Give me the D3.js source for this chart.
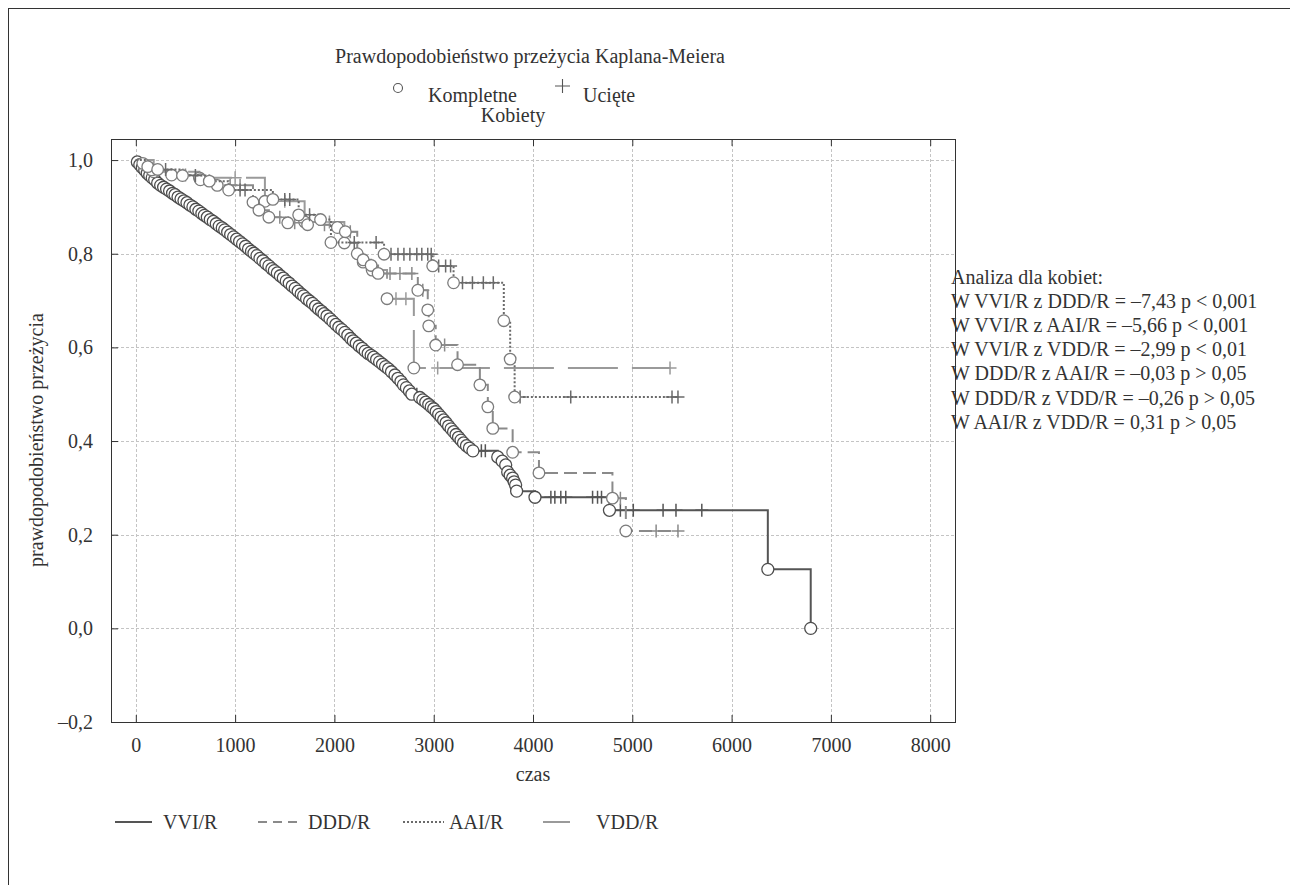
<!doctype html>
<html lang="pl">
<head>
<meta charset="UTF-8">
<title>Kaplan-Meier - Kobiety</title>
<style>
  body { margin: 0; background: #fff; }
  svg text { font-family: "Liberation Serif", "Times New Roman", serif; fill: #333; }
</style>
</head>
<body>
<div class="container"></div>

<script src="https://d3js.org/d3.v7.min.js"></script>
<script>
  // ---- data ----
  const xTicks = [0, 1000, 2000, 3000, 4000, 5000, 6000, 7000, 8000];
  const yTicks = [-0.2, 0, 0.2, 0.4, 0.6, 0.8, 1.0];
  const seriesNames = ['VVI/R', 'DDD/R', 'AAI/R', 'VDD/R'];

  // [time, survival after event] for complete observations (circles)
  const vviDeaths = [
    [15,0.996],[40,0.99],[65,0.984],[90,0.978],[115,0.972],[140,0.967],[165,0.962],[190,0.958],
    [220,0.951],[250,0.946],[280,0.942],[310,0.938],[340,0.934],[370,0.929],[395,0.926],
    [425,0.921],[455,0.917],[485,0.913],[515,0.909],[545,0.904],[575,0.9],[605,0.895],
    [635,0.891],[665,0.886],[690,0.882],[720,0.878],[750,0.873],[780,0.869],[810,0.864],
    [840,0.859],[870,0.855],[895,0.851],[925,0.846],[955,0.841],[985,0.836],[1015,0.831],
    [1045,0.826],[1075,0.821],[1105,0.816],[1135,0.81],[1165,0.805],[1190,0.801],[1220,0.796],
    [1250,0.79],[1280,0.785],[1310,0.779],[1340,0.774],[1370,0.768],[1395,0.764],[1425,0.759],
    [1455,0.753],[1485,0.748],[1515,0.742],[1545,0.737],[1575,0.731],[1605,0.726],[1635,0.72],
    [1665,0.714],[1690,0.71],[1720,0.704],[1750,0.699],[1780,0.694],[1810,0.688],[1840,0.682],
    [1870,0.677],[1895,0.672],[1925,0.667],[1955,0.661],[1985,0.655],[2015,0.649],[2045,0.643],
    [2075,0.638],[2105,0.632],[2135,0.626],[2165,0.619],[2190,0.614],[2220,0.609],[2250,0.603],
    [2280,0.598],[2310,0.592],[2340,0.587],[2370,0.583],[2395,0.579],[2425,0.574],[2455,0.569],
    [2485,0.564],[2515,0.559],[2545,0.554],[2575,0.548],[2610,0.541],[2640,0.534],[2670,0.527],
    [2695,0.52],[2725,0.514],[2755,0.507],[2780,0.5],[2860,0.493],[2890,0.488],[2920,0.483],
    [2950,0.478],[2975,0.473],[3000,0.469],[3025,0.463],[3050,0.457],[3075,0.451],[3100,0.445],
    [3125,0.439],[3150,0.432],[3175,0.426],[3200,0.42],[3225,0.414],[3250,0.408],[3275,0.402],
    [3300,0.396],[3330,0.39],[3360,0.385],[3395,0.379],[3645,0.366],[3690,0.357],[3725,0.349],
    [3745,0.334],[3770,0.327],[3795,0.321],[3810,0.313],[3825,0.306],[3835,0.293],[4020,0.28],
    [4770,0.252],[6365,0.126],[6797,0]
  ];
  const vviCensored = [2830,3480,3520,4180,4220,4280,4330,4600,4650,4690,4880,5010,5310,5440,5700];

  const dddDeaths = [
    [70,0.993],[160,0.979],[360,0.968],[650,0.958],[820,0.946],[1180,0.91],[1240,0.893],
    [1340,0.878],[1530,0.866],[1730,0.862],[2030,0.856],[2110,0.847],[2230,0.8],[2290,0.787],
    [2370,0.775],[2440,0.758],[2840,0.722],[2940,0.68],[2950,0.646],[3020,0.605],[3240,0.563],
    [3465,0.52],[3545,0.473],[3595,0.427],[3795,0.376],[4060,0.332],[4800,0.278],[4935,0.208]
  ];
  const dddCensored = [500,950,1050,1450,1600,1900,2160,2560,2660,2780,2890,3040,3110,4880,5240,5460];

  const aaiDeaths = [
    [120,0.986],[220,0.98],[470,0.967],[740,0.955],[935,0.936],[1380,0.916],[1640,0.883],
    [1860,0.873],[1965,0.824],[2500,0.799],[2990,0.774],[3200,0.738],[3706,0.657],[3770,0.575],
    [3815,0.494]
  ];
  const aaiCensored = [300,600,1050,1100,1500,1550,1750,2200,2420,2570,2640,2700,2760,2830,2880,
    2940,2975,3050,3120,3170,3290,3390,3500,3600,3870,4380,5400,5460];

  const vddDeaths = [
    [180,0.975],[640,0.962],[1300,0.912],[1700,0.868],[2100,0.823],[2290,0.782],[2380,0.765],
    [2530,0.704],[2800,0.556]
  ];
  const vddCensored = [1000,1500,1950,2620,2720,3040,5380];

  const statLines = [
    'Analiza dla kobiet:',
    'W VVI/R z DDD/R = –7,43 p < 0,001',
    'W VVI/R z AAI/R = –5,66 p < 0,001',
    'W VVI/R z VDD/R = –2,99 p < 0,01',
    'W DDD/R z AAI/R = –0,03 p > 0,05',
    'W DDD/R z VDD/R = –0,26 p > 0,05',
    'W AAI/R z VDD/R = 0,31 p > 0,05'
  ];

  // ---- layout ----
  const W = 1290, H = 885;
  const FRAME = { left: 111, right: 955, top: 139, bottom: 722 };
  const FONT = 20;

  const styles = {
    'VVI/R': { color: '#555', width: 2, dash: null, legendDash: null, circle: '#4d4d4d' },
    'DDD/R': { color: '#8a8a8a', width: 2, dash: '13,6', legendDash: '9,6', circle: '#7c7c7c' },
    'AAI/R': { color: '#6a6a6a', width: 2, dash: '2,2', legendDash: '2,2', circle: '#7c7c7c' },
    'VDD/R': { color: '#9a9a9a', width: 2, dash: '50,14', legendDash: null, circle: '#7c7c7c' }
  };

  const svg = d3.select('.container')
    .append('svg')
    .attr('width', W)
    .attr('height', H);

  // outer border (only left and top edges visible)
  svg.append('rect')
    .attr('x', 8.5).attr('y', 8.5)
    .attr('width', W + 20).attr('height', H + 20)
    .attr('fill', 'none').attr('stroke', '#333');

  const x = d3.scaleLinear().domain([-250, 8250]).range([FRAME.left, FRAME.right]);
  const y = d3.scaleLinear().domain([-0.2, 1.045]).range([FRAME.bottom, FRAME.top]);

  const fmtY = d => d3.format('.1f')(d).replace('.', ',').replace(/[-\u2212]/, '–');

  // grid
  const grid = svg.append('g')
    .attr('stroke', '#c4c4c4')
    .attr('stroke-dasharray', '3,2')
    .attr('stroke-width', 1);
  grid.selectAll('.gx').data(xTicks).join('line')
    .attr('x1', d => Math.round(x(d)) + 0.5).attr('x2', d => Math.round(x(d)) + 0.5)
    .attr('y1', FRAME.top).attr('y2', FRAME.bottom);
  grid.selectAll('.gy').data(yTicks).join('line')
    .attr('y1', d => Math.round(y(d)) + 0.5).attr('y2', d => Math.round(y(d)) + 0.5)
    .attr('x1', FRAME.left).attr('x2', FRAME.right);

  // axes
  const xAxisGroup = svg.append('g')
    .attr('transform', `translate(0, ${FRAME.bottom})`)
    .call(d3.axisBottom(x).tickValues(xTicks).tickSize(-7).tickPadding(16).tickFormat(d3.format('d')));
  const xTopGroup = svg.append('g')
    .attr('transform', `translate(0, ${FRAME.top})`)
    .call(d3.axisTop(x).tickValues(xTicks).tickSize(-7).tickFormat(''));
  const yAxisGroup = svg.append('g')
    .attr('transform', `translate(${FRAME.left}, 0)`)
    .call(d3.axisLeft(y).tickValues(yTicks).tickSize(-7).tickPadding(18).tickFormat(fmtY));

  [xAxisGroup, xTopGroup, yAxisGroup].forEach(g => {
    g.select('.domain').remove();
    g.selectAll('line').attr('stroke', '#333');
    g.selectAll('text').attr('font-size', FONT).attr('fill', '#333')
      .style('font-family', '"Liberation Serif", "Times New Roman", serif');
  });

  svg.append('rect')
    .attr('x', FRAME.left + 0.5).attr('y', FRAME.top + 0.5)
    .attr('width', FRAME.right - FRAME.left).attr('height', FRAME.bottom - FRAME.top)
    .attr('fill', 'none').attr('stroke', '#333');

  // survival curves
  const plot = svg.append('g');
  const line = d3.line().x(d => x(d[0])).y(d => y(d[1])).curve(d3.curveStepAfter);

  function drawSeries(name, deaths, censored, radius) {
    const st = styles[name];
    const level = t => {
      let s = 1;
      for (const [et, es] of deaths) if (et <= t) s = es;
      return s;
    };
    const end = Math.max(deaths[deaths.length - 1][0], ...censored);
    const pts = [[0, 1], ...deaths, [end, level(end)]];

    plot.append('path')
      .datum(pts)
      .attr('d', line)
      .attr('fill', 'none')
      .attr('stroke', st.color)
      .attr('stroke-width', st.width)
      .attr('stroke-dasharray', st.dash);

    plot.append('g').selectAll('path')
      .data(censored)
      .join('path')
      .attr('d', t => {
        const cx = x(t), cy = y(level(t));
        return `M${cx - 6.5},${cy}H${cx + 6.5}M${cx},${cy - 6.5}V${cy + 6.5}`;
      })
      .attr('stroke', st.color)
      .attr('stroke-width', 1.5);

    plot.append('g').selectAll('circle')
      .data(deaths)
      .join('circle')
      .attr('cx', d => x(d[0]))
      .attr('cy', d => y(d[1]))
      .attr('r', radius)
      .attr('fill', '#fff')
      .attr('stroke', st.circle)
      .attr('stroke-width', 1.3);
  }

  drawSeries('VVI/R', vviDeaths, vviCensored, 6);
  drawSeries('VDD/R', vddDeaths, vddCensored, 5.8);
  drawSeries('DDD/R', dddDeaths, dddCensored, 5.8);
  drawSeries('AAI/R', aaiDeaths, aaiCensored, 5.8);

  // titles
  svg.append('text')
    .attr('x', 530).attr('y', 63)
    .attr('text-anchor', 'middle').attr('font-size', FONT)
    .text('Prawdopodobieństwo przeżycia Kaplana-Meiera');

  svg.append('circle')
    .attr('cx', 398).attr('cy', 88).attr('r', 4.5)
    .attr('fill', '#fff').attr('stroke', '#555').attr('stroke-width', 1.1);
  svg.append('text').attr('x', 428).attr('y', 102).attr('font-size', FONT).text('Kompletne');
  svg.append('path')
    .attr('d', 'M555,86H570M562.5,79V93')
    .attr('stroke', '#555').attr('stroke-width', 1.1);
  svg.append('text').attr('x', 583).attr('y', 102).attr('font-size', FONT).text('Ucięte');
  svg.append('text')
    .attr('x', 513).attr('y', 122)
    .attr('text-anchor', 'middle').attr('font-size', FONT)
    .text('Kobiety');

  svg.append('text')
    .attr('transform', 'translate(43, 440) rotate(-90)')
    .attr('text-anchor', 'middle').attr('font-size', FONT)
    .text('prawdopodobieństwo przeżycia');

  svg.append('text')
    .attr('x', (FRAME.left + FRAME.right) / 2).attr('y', 781)
    .attr('text-anchor', 'middle').attr('font-size', FONT)
    .text('czas');

  // statistics
  svg.append('g').selectAll('text')
    .data(statLines)
    .join('text')
    .attr('x', 951)
    .attr('y', (d, i) => 284 + i * 24.1)
    .attr('font-size', FONT)
    .text(d => d);

  // bottom legend: [line start, line end, text start]
  const legendPos = [[115, 152, 163], [258, 299, 308], [403, 444, 449], [543, 570, 596]];
  const legend = svg.append('g').attr('transform', 'translate(0, 822)');
  seriesNames.forEach((name, i) => {
    const st = styles[name];
    const [x1, x2, tx] = legendPos[i];
    legend.append('line')
      .attr('x1', x1).attr('x2', x2)
      .attr('stroke', st.color).attr('stroke-width', 2)
      .attr('stroke-dasharray', st.legendDash);
    legend.append('text')
      .attr('x', tx)
      .attr('y', 7)
      .attr('font-size', FONT)
      .text(name);
  });
</script>
</body>
</html>
